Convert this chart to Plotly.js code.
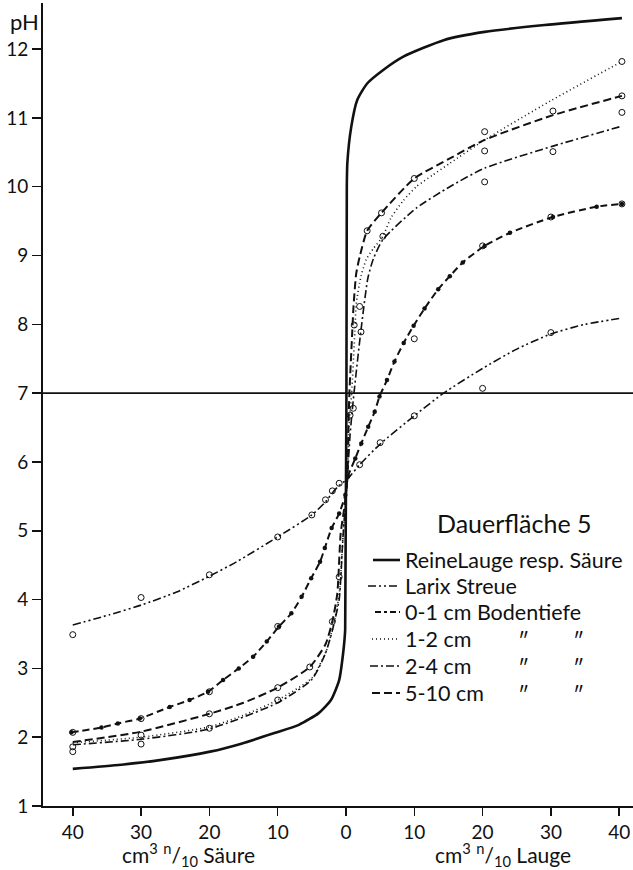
<!DOCTYPE html>
<html>
<head>
<meta charset="utf-8">
<script src="https://cdn.plot.ly/plotly-3.0.1.min.js"></script>
<style>html,body{margin:0;padding:0;background:#fff;}#chart{width:633px;height:870px;}</style>
</head>
<body>
<div id="chart"></div>
<script>
// ---- data (x: negative = cm3 n/10 Säure, positive = cm3 n/10 Lauge) ----
const tickVals = [-40, -30, -20, -10, 0, 10, 20, 30, 40];
const tickText = ["40", "30", "20", "10", "0", "10", "20", "30", "40"];
const phTicks = [1, 2, 3, 4, 5, 6, 7, 8, 9, 10, 11, 12];
const neutralPH = 7;

const legendTitle = "Dauerfläche 5";
const DITTO = "\u2033";
const names = ["ReineLauge resp. Säure", "Larix Streue", "0-1 cm Bodentiefe", "1-2 cm", "2-4 cm", "5-10 cm"];
const dittoRows = [false, false, false, true, true, true];

// Reine Lauge resp. Säure
const pureX  = [-40, -32.9, -27, -19.9, -15.2, -10.5, -6.9, -4.0, -2.2, -1.0, -0.42, -0.12, 0.12, 0.2, 0.77, 1.65, 3.1, 5.5, 8.4, 14.3, 20.3, 29.1, 40.4];
const purePH = [1.54, 1.6, 1.67, 1.79, 1.91, 2.06, 2.18, 2.35, 2.54, 2.83, 3.22, 3.56, 10.0, 10.35, 10.87, 11.26, 11.5, 11.7, 11.89, 12.13, 12.25, 12.35, 12.45];

// Larix Streue
const larixX  = [-40, -34.6, -30, -24.8, -20, -16, -10, -5, -3, -2, -1, 0.2, 2, 5, 10, 14.3, 20, 25, 30, 35, 40.4];
const larixPH = [3.63, 3.78, 3.92, 4.11, 4.34, 4.55, 4.91, 5.23, 5.42, 5.55, 5.66, 5.75, 5.96, 6.26, 6.67, 7.0, 7.36, 7.64, 7.86, 8.0, 8.09];
const larixPtX  = [-40, -30, -20, -10, -5, -3, -2, -1, 2, 5, 10, 20, 30];
const larixPtPH = [3.49, 4.03, 4.36, 4.91, 5.23, 5.45, 5.58, 5.69, 5.96, 6.28, 6.67, 7.07, 7.88];

// 0-1 cm Bodentiefe
const d01X  = [-40.2, -35.8, -33.4, -30.2, -25.8, -22.9, -20.2, -18, -15.7, -13.6, -11.6, -9.8, -8.0, -6.5, -5.1, -3.8, -3.1, -2.1, -1.0, -0.1, 0.3, 1.36, 2.24, 3.25, 4.2, 4.9, 6.0, 7.1, 8.45, 9.9, 11.5, 13.5, 15.2, 17.1, 20.3, 24, 30.3, 36.7, 40.4];
const d01PH = [2.07, 2.14, 2.2, 2.27, 2.44, 2.54, 2.66, 2.83, 3.0, 3.17, 3.39, 3.61, 3.8, 4.04, 4.31, 4.55, 4.75, 5.04, 5.25, 5.52, 5.79, 6.05, 6.27, 6.51, 6.73, 6.95, 7.19, 7.46, 7.73, 7.98, 8.23, 8.51, 8.7, 8.9, 9.14, 9.33, 9.56, 9.71, 9.75];
const d01PtX  = [-40, -30, -20, -10, 10, 20, 30, 40.4];
const d01PtPH = [2.07, 2.27, 2.66, 3.61, 7.79, 9.14, 9.56, 9.75];

// 1-2 cm
const d12X  = [-40, -30, -20, -15, -10, -5, -2.9, -1.9, -0.98, -0.4, 0.2, 0.5, 0.83, 1.3, 1.5, 2.2, 3, 4, 5.4, 6.6, 8.4, 10.3, 12.7, 15.2, 20.3, 30, 40.4];
const d12PH = [1.92, 2.0, 2.15, 2.32, 2.54, 2.86, 3.25, 3.6, 4.09, 4.96, 5.75, 6.6, 7.0, 7.9, 8.3, 8.7, 8.95, 9.1, 9.28, 9.55, 9.8, 10.0, 10.17, 10.34, 10.68, 11.25, 11.82];
const d12PtX  = [-40, -30, -1, 1.2, 2.0, 5.4, 20.3, 40.4];
const d12PtPH = [1.86, 2.03, 4.33, 7.99, 8.26, 9.28, 10.8, 11.82];

// 2-4 cm
const d24X  = [-40, -30, -20, -10, -5, -3, -2, -1.0, -0.45, 0.2, 0.6, 1.17, 2.2, 3.2, 4, 5.4, 10.3, 15.2, 20.3, 30.3, 40.4];
const d24PH = [1.89, 1.97, 2.12, 2.5, 2.84, 3.22, 3.55, 4.0, 4.9, 5.75, 6.4, 7.0, 7.92, 8.67, 8.95, 9.23, 9.69, 10.0, 10.27, 10.59, 10.88];
const d24PtX  = [-40, -20, -10, 1.07, 2.2, 20.3, 30.3, 40.4];
const d24PtPH = [1.79, 2.13, 2.54, 6.78, 7.89, 10.07, 10.51, 11.08];

// 5-10 cm
const d510X  = [-40, -30, -20, -15, -10, -5.3, -3, -2, -1.27, -0.78, -0.3, 0.2, 0.35, 0.5, 0.93, 1.1, 1.5, 2.0, 3.1, 5.2, 10, 15, 20.3, 30.3, 40.4];
const d510PH = [1.93, 2.08, 2.34, 2.5, 2.72, 3.02, 3.35, 3.68, 4.09, 4.96, 5.3, 5.75, 6.5, 7.0, 7.92, 8.26, 8.74, 8.98, 9.36, 9.62, 10.12, 10.4, 10.68, 11.04, 11.32];
const d510PtX  = [-30, -20, -10, -5.3, -2, 0.6, 3.1, 5.2, 10, 20.3, 30.3, 40.4];
const d510PtPH = [1.9, 2.34, 2.72, 3.02, 3.68, 6.68, 9.36, 9.62, 10.12, 10.52, 11.1, 11.32];

// ---- styling ----
const INK = "#111111";
const FONT = "Lato, Liberation Sans, sans-serif";
const W = 633, H = 870, ML = 43, MR = 0, MT = 3, MB = 64;
const px2x = (px) => (px - ML) / (W - ML - MR);
const py2y = (py) => (H - MB - py) / (H - MB - MT);

const styles = [
  {dash: "solid", width: 2.6},
  {dash: "8px,3px,2px,3px,2px,3px", width: 1.6},
  {dash: "7px,4px", width: 2},
  {dash: "1px,3px", width: 1.6},
  {dash: "8px,3px,2px,3px", width: 1.6},
  {dash: "8px,4px", width: 2}
];

function curve(x, y, i, extra) {
  return Object.assign({
    type: "scatter", mode: "lines", x: x, y: y, name: names[i], showlegend: false,
    line: {color: INK, width: styles[i].width, dash: styles[i].dash, shape: "spline", smoothing: 0.6},
    hoverinfo: "skip"
  }, extra || {});
}
function points(x, y) {
  return {
    type: "scatter", mode: "markers", x: x, y: y, showlegend: false,
    marker: {symbol: "circle-open", size: 6, color: INK, line: {width: 1, color: INK}},
    hoverinfo: "skip"
  };
}

const traces = [
  curve(pureX, purePH, 0),
  curve(larixX, larixPH, 1),
  curve(d01X, d01PH, 2, {mode: "lines+markers", marker: {size: 4.5, color: INK}}),
  curve(d12X, d12PH, 3),
  curve(d24X, d24PH, 4),
  curve(d510X, d510PH, 5),
  points(larixPtX, larixPtPH),
  points(d01PtX, d01PtPH),
  points(d12PtX, d12PtPH),
  points(d24PtX, d24PtPH),
  points(d510PtX, d510PtPH)
];

// ---- hand-placed legend (pixel geometry) ----
const legRowY = [560, 586, 612, 639, 666, 693];
const legSampleX0 = [373, 368, 375, 372, 370, 372];
const legSampleX1 = 400;
const legTextX = 403;
const dittoX = [523, 578];

const shapes = [
  {type: "line", xref: "paper", x0: 0, x1: 1, yref: "y", y0: neutralPH, y1: neutralPH,
   line: {color: INK, width: 1.6}}
];
const annotations = [
  {text: "pH", xref: "paper", yref: "paper", x: px2x(41), y: py2y(6), xanchor: "right", yanchor: "top",
   showarrow: false, font: {family: FONT, size: 22, color: INK}},
  {text: "cm<sup>3</sup> <sup>n</sup>/<sub>10</sub> Säure", xref: "x", yref: "paper", x: -23, y: py2y(854),
   xanchor: "center", yanchor: "middle", showarrow: false, font: {family: FONT, size: 21, color: INK}},
  {text: "cm<sup>3</sup> <sup>n</sup>/<sub>10</sub> Lauge", xref: "x", yref: "paper", x: 23, y: py2y(854),
   xanchor: "center", yanchor: "middle", showarrow: false, font: {family: FONT, size: 21, color: INK}},
  {text: legendTitle, xref: "paper", yref: "paper", x: px2x(514), y: py2y(523), xanchor: "center", yanchor: "middle",
   showarrow: false, font: {family: FONT, size: 25, color: INK}}
];
names.forEach((nm, i) => {
  const yy = py2y(legRowY[i]);
  shapes.push({type: "line", xref: "paper", yref: "paper", x0: px2x(legSampleX0[i]), x1: px2x(legSampleX1), y0: yy, y1: yy,
    line: {color: INK, width: styles[i].width, dash: i === 2 ? "6px,3px,3px,3px" : styles[i].dash}});
  annotations.push({text: nm, xref: "paper", yref: "paper", x: px2x(legTextX), y: yy, xanchor: "left", yanchor: "middle",
    showarrow: false, font: {family: FONT, size: 21.5, color: INK}});
  if (dittoRows[i]) {
    dittoX.forEach((dx) => annotations.push({text: DITTO, xref: "paper", yref: "paper", x: px2x(dx), y: yy,
      xanchor: "center", yanchor: "middle", showarrow: false, font: {family: FONT, size: 21, color: INK}}));
  }
});

const layout = {
  width: W, height: H,
  margin: {l: ML, r: MR, t: MT, b: MB},
  paper_bgcolor: "#fff", plot_bgcolor: "#fff",
  font: {family: FONT, color: INK, size: 18},
  showlegend: false,
  xaxis: {
    range: [-44.36, 42.02], showgrid: false, zeroline: false,
    showline: true, linecolor: INK, linewidth: 2,
    ticks: "outside", ticklen: 8, tickwidth: 1.5, tickcolor: INK,
    tickvals: tickVals, ticktext: tickText,
    tickfont: {family: FONT, size: 19, color: INK}
  },
  yaxis: {
    range: [1, 12.67], showgrid: false, zeroline: false,
    showline: true, linecolor: INK, linewidth: 2,
    ticks: "outside", ticklen: 9, tickwidth: 1.5, tickcolor: INK,
    tickvals: phTicks, ticktext: phTicks.map(String),
    tickfont: {family: FONT, size: 19, color: INK}
  },
  shapes: shapes,
  annotations: annotations
};

Plotly.newPlot("chart", traces, layout, {displayModeBar: false, staticPlot: true});
</script>
</body>
</html>
